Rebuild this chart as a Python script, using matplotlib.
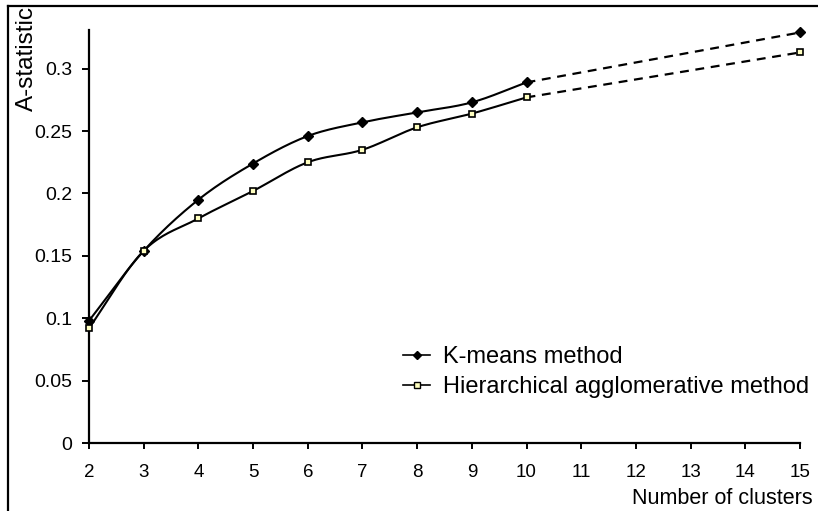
import numpy as np
import matplotlib
matplotlib.use("Agg")
import matplotlib.pyplot as plt
from matplotlib.lines import Line2D

plt.rcParams['font.family'] = ['Liberation Sans', 'DejaVu Sans']

clusters = [2, 3, 4, 5, 6, 7, 8, 9, 10]
kmeans = [0.098, 0.154, 0.195, 0.224, 0.246, 0.257, 0.265, 0.273, 0.289]
hier = [0.092, 0.154, 0.180, 0.202, 0.225, 0.235, 0.253, 0.264, 0.277]
ext_x = [10, 15]
kmeans_ext = [0.289, 0.329]
hier_ext = [0.277, 0.313]
xticks = list(range(2, 16))
yticks = [0, 0.05, 0.1, 0.15, 0.2, 0.25, 0.3]
ytick_labels = ['0', '0.05', '0.1', '0.15', '0.2', '0.25', '0.3']


def smooth(x, y, n=20):
    x = np.asarray(x, float); y = np.asarray(y, float)
    px = np.concatenate([[2 * x[0] - x[1]], x, [2 * x[-1] - x[-2]]])
    py = np.concatenate([[2 * y[0] - y[1]], y, [2 * y[-1] - y[-2]]])
    xs, ys = [], []
    for i in range(1, len(px) - 2):
        t = np.linspace(0, 1, n, endpoint=False)
        p0, p1, p2, p3 = [np.array([px[j], py[j]]) for j in range(i - 1, i + 3)]
        for tt in t:
            pt = 0.5 * ((2 * p1) + (-p0 + p2) * tt + (2 * p0 - 5 * p1 + 4 * p2 - p3) * tt ** 2
                        + (-p0 + 3 * p1 - 3 * p2 + p3) * tt ** 3)
            xs.append(pt[0]); ys.append(pt[1])
    xs.append(x[-1]); ys.append(y[-1])
    return xs, ys


W, H = 818, 511
fig = plt.figure(figsize=(W / 100, H / 100), dpi=100)
ax = fig.add_axes([89 / W, (H - 443) / H, 711 / W, 413 / H])

sx, sy = smooth(clusters, kmeans)
ax.plot(sx, sy, color='black', lw=1.5, zorder=2)
sx, sy = smooth(clusters, hier)
ax.plot(sx, sy, color='black', lw=1.5, zorder=2)
ax.plot(ext_x, kmeans_ext, color='black', lw=1.6, ls=(0, (4, 3)), zorder=2)
ax.plot(ext_x, hier_ext, color='black', lw=1.6, ls=(0, (4, 3)), zorder=2)

ax.plot(clusters + ext_x[1:], kmeans + kmeans_ext[1:], ls='none', marker='D',
        ms=5.2, color='black', zorder=3, clip_on=False)
ax.plot(clusters + ext_x[1:], hier + hier_ext[1:], ls='none', marker='s',
        ms=5, mfc='#FFFFC0', mec='black', mew=1.2, zorder=3, clip_on=False)

handles = [
    Line2D([], [], color='black', lw=1.2, marker='D', ms=4.5),
    Line2D([], [], color='black', lw=1.2, marker='s', ms=4.2, mfc='#FFFFC0', mec='black'),
]
labels = ['K-means method', 'Hierarchical agglomerative method']
fig.legend(handles, labels, loc='upper left', bbox_to_anchor=(403 / W, (H - 346) / H),
           frameon=False, fontsize=17, handlelength=1.15, handletextpad=0.55,
           labelspacing=0.33, borderpad=0, borderaxespad=0)

ax.set_xlim(2, 15)
ax.set_ylim(0, 0.331)
ax.set_xticks(xticks)
ax.set_xticklabels([str(v) for v in xticks], fontsize=13.5)
ax.set_yticks(yticks)
ax.set_yticklabels(ytick_labels, fontsize=14)
for s in ['top', 'right']:
    ax.spines[s].set_visible(False)
for s in ['left', 'bottom']:
    ax.spines[s].set_linewidth(1.6)
ax.tick_params(axis='y', direction='out', length=5, width=1.4, pad=7)
ax.tick_params(axis='x', direction='out', length=4, width=1.4, pad=11)

fig.text(813 / W, 7 / H, 'Number of clusters', fontsize=15.5, ha='right', va='baseline')
fig.text(27 / W, 1 - 6 / H, 'A-statistic', rotation=90, fontsize=17.5,
         ha='center', va='top')

# outer chart frame (left and top edges visible, rest cropped)
fig.add_artist(Line2D([8 / W, 8 / W], [0, 1 - 6 / H], transform=fig.transFigure,
                      color='black', lw=1.6))
fig.add_artist(Line2D([8 / W, 1], [1 - 6 / H, 1 - 6 / H], transform=fig.transFigure,
                      color='black', lw=1.6))

fig.savefig('out.png', dpi=100)
